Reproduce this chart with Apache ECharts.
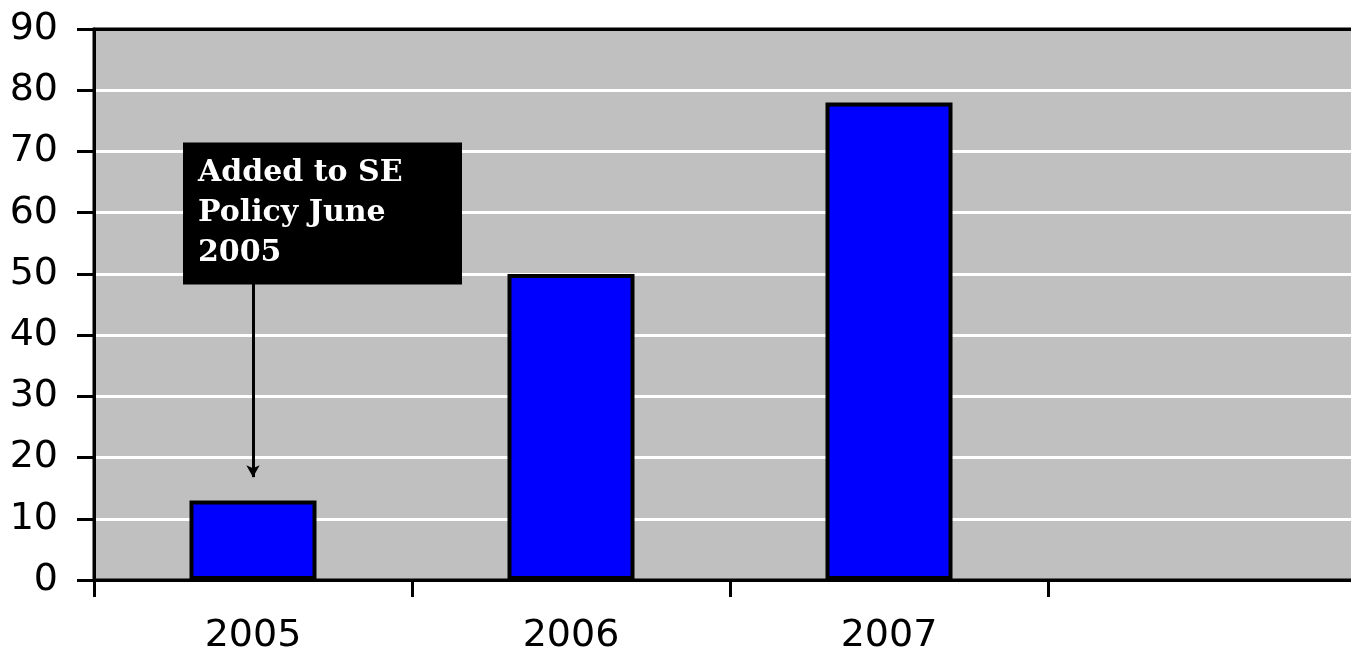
<!DOCTYPE html>
<html>
<head>
<meta charset="utf-8">
<script src="https://cdn.jsdelivr.net/npm/echarts@6/dist/echarts.min.js"></script>
<style>
html,body{margin:0;padding:0;background:#fff;}
#chart{width:1351px;height:652px;}
</style>
</head>
<body>
<div id="chart"></div>
<script>
const categories = ['2005', '2006', '2007', ''];
const values = [13, 50, 78, null];
const yTicks = [0, 10, 20, 30, 40, 50, 60, 70, 80, 90];
const noteText = ['Added to SE', 'Policy June', '2005'];
const arrowFrom = 48.6;
const arrowTo = 16.8;
const noteAt = 60.2;

const chart = echarts.init(document.getElementById('chart'), null, {renderer: 'canvas'});
chart.setOption({
  animation: false,
  backgroundColor: '#ffffff',
  grid: {
    left: 94, top: 29, width: 1272, height: 551,
    outerBoundsMode: 'none',
    show: true, backgroundColor: '#C0C0C0', borderColor: '#000', borderWidth: 3,
    containLabel: false
  },
  xAxis: [{
    type: 'category',
    data: categories,
    boundaryGap: true,
    axisLine: {show: true, lineStyle: {color: '#000', width: 3}},
    axisTick: {show: true, length: 17, interval: 0, lineStyle: {color: '#000', width: 3}},
    axisLabel: {
      interval: 0, margin: 37, color: '#000',
      fontFamily: 'DejaVu Sans', fontSize: 38
    },
    splitLine: {show: false}
  }, {
    type: 'category',
    position: 'top',
    data: categories,
    z: 5,
    axisLine: {show: true, lineStyle: {color: '#000', width: 3}},
    axisTick: {show: false},
    axisLabel: {show: false},
    splitLine: {show: false}
  }],
  yAxis: {
    type: 'value',
    min: yTicks[0], max: yTicks[yTicks.length - 1], interval: 10,
    axisLine: {show: true, lineStyle: {color: '#000', width: 3}},
    axisTick: {show: true, length: 17, lineStyle: {color: '#000', width: 3}},
    axisLabel: {
      margin: 36, color: '#000',
      fontFamily: 'DejaVu Sans', fontSize: 38
    },
    splitLine: {show: true, lineStyle: {color: '#fff', width: 3}}
  },
  series: [{
    type: 'bar',
    data: values,
    barWidth: 127,
    itemStyle: {color: '#0000FF', borderColor: '#000', borderWidth: 4},
    markPoint: {
      silent: true,
      symbol: 'rect',
      symbolSize: 1,
      itemStyle: {color: 'rgba(0,0,0,0)'},
      data: [{
        coord: [categories[0], noteAt],
        label: {
          show: true,
          position: 'inside',
          offset: [-70, 2],
          formatter: noteText.join('\n'),
          color: '#fff',
          backgroundColor: '#000',
          fontFamily: 'DejaVu Serif',
          fontWeight: 'bold',
          fontSize: 30,
          lineHeight: 40,
          align: 'left',
          width: 249,
          height: 120,
          padding: [9, 15, 13, 15]
        }
      }]
    },
    markLine: {
      silent: true,
      symbol: ['none', 'arrow'],
      symbolSize: [10, 12],
      label: {show: false},
      lineStyle: {color: '#000', width: 3, type: 'solid'},
      data: [[
        {coord: [0.02, arrowFrom]},
        {coord: [0.02, arrowTo]}
      ]]
    }
  }]
});
</script>
</body>
</html>
